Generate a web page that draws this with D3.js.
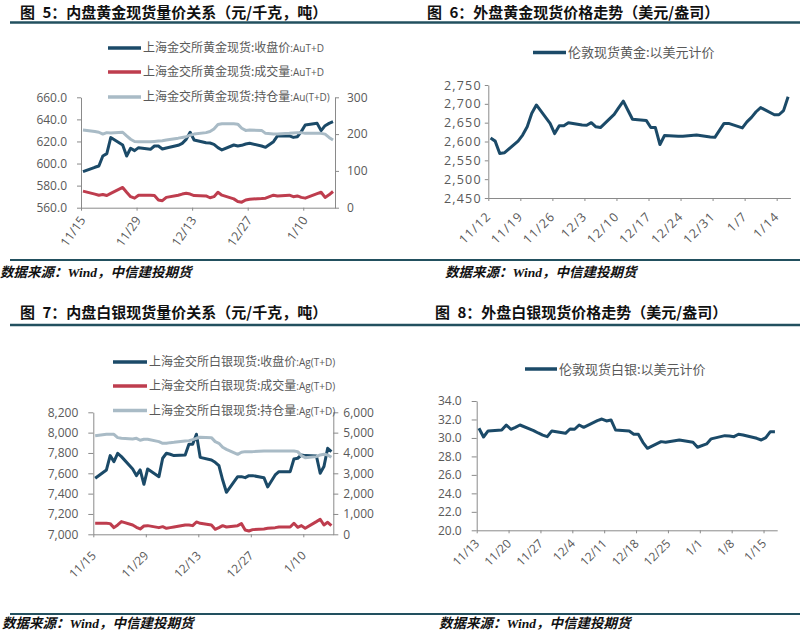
<!DOCTYPE html>
<html>
<head>
<meta charset="utf-8">
<script src="https://cdn.jsdelivr.net/npm/d3@7"></script>
<style>
body { margin: 0; background: #fff; }
text { font-family: "Open Sans", "Noto Sans CJK SC", sans-serif; }
</style>
</head>
<body>
<svg id="chart" width="800" height="637"></svg>
<script>
// ---- data ----
var sgeDates = ['2024-11-15','2024-11-18','2024-11-19','2024-11-20','2024-11-21','2024-11-22',
  '2024-11-25','2024-11-26','2024-11-27','2024-11-28','2024-11-29',
  '2024-12-02','2024-12-03','2024-12-04','2024-12-05','2024-12-06',
  '2024-12-09','2024-12-10','2024-12-11','2024-12-12','2024-12-13',
  '2024-12-16','2024-12-17','2024-12-18','2024-12-19','2024-12-20',
  '2024-12-23','2024-12-24','2024-12-25','2024-12-26','2024-12-27',
  '2024-12-30','2024-12-31','2025-01-02','2025-01-03',
  '2025-01-06','2025-01-07','2025-01-08','2025-01-09','2025-01-10',
  '2025-01-13','2025-01-14','2025-01-15','2025-01-16','2025-01-17'];

var auClose = [592.6,596.6,597.8,606.8,609,623.5, 616.8,606.8,613.8,611.7,614.4,
  612.9,615.9,615.9,613.2,614.1, 616.5,618.3,621.9,628.3,621.3,
  618.9,618.6,617.4,614.4,612.3, 616.8,615.9,616.5,617.7,618.3,
  615.9,614.7,619.8,625, 625,623.7,624.3,628.9,634.9, 636.4,629.8,634.3,636.4,637.9];
var auVolume = [45,37,34,36,33,39, 55,42,30,26,34, 34,33,21,19,28, 34,37,39,37,33,
  32,27,30,42,34, 24,17,15,21,23, 25,26,34,32, 34,30,32,28,26, 38,42,28,35,44];
var auOI = [211,207,205,200,204,203, 205,195,186,180,179, 179,180,181,182,184, 189,191,193,197,200,
  204,207,214,226,228, 228,227,216,210,211, 210,202,200,200, 202,203,204,204,202, 202,202,200,191,184];

var agClose = [7551,7633,7774,7715,7797,7764, 7643,7577,7633,7492,7643,
  7567,7748,7797,7787,7774, 7780,7885,7885,7984,7757,
  7731,7708,7675,7534,7413, 7567,7567,7557,7577,7577,
  7557,7466,7584,7616, 7616,7741,7748,7780,7774, 7770,7600,7666,7846,7813];
var agVolume = [540,540,525,328,459,623, 459,344,262,410,426, 328,377,295,328,360,
  459,459,426,607,541, 459,246,328,426,360, 426,525,213,164,230,
  262,295,328,360, 360,541,344,426,295, 623,738,459,590,426];
var agOI = [4852,4918,4918,4918,4754,4721, 4689,4721,4623,4672,4672, 4557,4475,4475,4508,4525,
  4590,4607,4656,4721,4770, 4754,4557,4475,4279,4180, 3934,4033,4066,4066,4066,
  4098,4098,4098,4098, 4098,4098,4066,3869,3770, 3820,3902,3934,3902,3787];

var lbmaGoldDates = ['2024-11-12','2024-11-13','2024-11-14','2024-11-15','2024-11-18','2024-11-19',
  '2024-11-20','2024-11-21','2024-11-22','2024-11-25','2024-11-26','2024-11-27','2024-11-28','2024-11-29',
  '2024-12-02','2024-12-03','2024-12-04','2024-12-05','2024-12-06','2024-12-09','2024-12-10',
  '2024-12-11','2024-12-12','2024-12-13','2024-12-16','2024-12-17','2024-12-18','2024-12-19',
  '2024-12-20','2024-12-23','2024-12-24','2024-12-27','2024-12-30','2024-12-31',
  '2025-01-02','2025-01-03','2025-01-06','2025-01-07','2025-01-08','2025-01-09','2025-01-10',
  '2025-01-13','2025-01-14','2025-01-15','2025-01-16'];
var lbmaGold = [2609,2601,2568,2570,2601,2617,2639,2675,2697,2648,2621,2642,2642,2650,
  2644,2643,2650,2639,2637,2672,2690,2707,2683,2659,2656,2637,2637,2592,2616,2614,2614,2617,2612,2611,
  2648,2648,2636,2652,2664,2679,2690,2671,2671,2682,2719];

var lbmaSilverDates = ['2024-11-13','2024-11-14','2024-11-15','2024-11-18','2024-11-19','2024-11-20',
  '2024-11-21','2024-11-22','2024-11-25','2024-11-26','2024-11-27','2024-11-28','2024-11-29',
  '2024-12-02','2024-12-03','2024-12-04','2024-12-05','2024-12-06','2024-12-09','2024-12-10',
  '2024-12-11','2024-12-12','2024-12-13','2024-12-16','2024-12-17','2024-12-18','2024-12-19',
  '2024-12-20','2024-12-23','2024-12-24','2024-12-27','2024-12-30','2024-12-31',
  '2025-01-02','2025-01-03','2025-01-06','2025-01-07','2025-01-08','2025-01-09','2025-01-10',
  '2025-01-13','2025-01-14','2025-01-15','2025-01-16','2025-01-17'];
var lbmaSilver = [31.05,30.1,30.76,30.86,31.4,30.94,31.15,31.4,30.8,30.54,30.3,30.14,30.76,
  30.5,30.97,30.94,31.4,31.15,31.87,32.05,31.84,31.95,30.86,30.76,30.4,30.4,29.53,28.88,29.6,29.53,29.78,29.53,28.99,
  29.35,29.9,30.25,30.22,30.14,30.4,30.32,29.96,29.78,30.04,30.68,30.68];

var sgeTicks = ['2024-11-15','2024-11-29','2024-12-13','2024-12-27','2025-01-10'];
var goldTicks = ['2024-11-12','2024-11-19','2024-11-26','2024-12-03','2024-12-10','2024-12-17',
  '2024-12-24','2024-12-31','2025-01-07','2025-01-14'];
var silverTicks = ['2024-11-13','2024-11-20','2024-11-27','2024-12-04','2024-12-11','2024-12-18',
  '2024-12-25','2025-01-01','2025-01-08','2025-01-15'];

var titles = ['图\u20025：内盘黄金现货量价关系（元/千克，吨）', '图\u20026：外盘黄金现货价格走势（美元/盎司）',
  '图\u20027：内盘白银现货量价关系（元/千克，吨）', '图\u20028：外盘白银现货价格走势（美元/盎司）'];
var source = '数据来源：Wind，中信建投期货';

var DARK = '#1b4a68', RED = '#be3d4e', GREY = '#a9bbc6', RULE = '#22505f', AXIS = '#8a8a8a', LABEL = '#595959';

var parse = d3.timeParse('%Y-%m-%d');
var fmtDay = d3.timeFormat('%-m/%-d');
var svg = d3.select('#chart');

// points sit in the middle of their day, like the date axis in the source charts
function mid(s) { return d3.timeHour.offset(parse(s), 12); }

function drawPanel(o) {
  var g = svg.append('g');
  var x = d3.scaleTime().domain([parse(o.start), parse(o.end)]).range([o.x0, o.x1]);
  var yL = d3.scaleLinear().domain(o.left.domain).range([o.yBot, o.yTop]);
  var yR = o.right ? d3.scaleLinear().domain(o.right.domain).range([o.yBot, o.yTop]) : null;

  // x axis
  var xa = g.append('g').attr('transform', 'translate(0,' + o.yBot + ')')
    .call(d3.axisBottom(x).tickValues(o.ticks.map(parse)).tickFormat(fmtDay).tickSize(3).tickSizeOuter(0));
  xa.selectAll('text')
    .attr('text-anchor', 'end').attr('dy', '0.35em').attr('y', 0)
    .attr('transform', 'translate(' + (o.xLabelDx || 0) + ',' + o.xLabelOff + ') rotate(' + (o.xLabelRot || -45) + ')')
    .style('font-size', (o.xFont || o.font) + 'px').style('letter-spacing', (o.spacing || 0) + 'px').attr('fill', LABEL);

  // left axis
  var la = g.append('g').attr('transform', 'translate(' + o.x0 + ',0)')
    .call(d3.axisLeft(yL).tickValues(o.left.ticks).tickFormat(d3.format(o.left.fmt)).tickSize(o.tick).tickSizeOuter(0).tickPadding(o.pad));
  la.selectAll('text').style('font-size', o.font + 'px').style('letter-spacing', (o.spacing || 0) + 'px').attr('fill', LABEL);

  if (yR) {
    var ra = g.append('g').attr('transform', 'translate(' + o.x1 + ',0)')
      .call(d3.axisRight(yR).tickValues(o.right.ticks).tickFormat(d3.format(o.right.fmt)).tickSize(o.tick).tickSizeOuter(0).tickPadding(o.padR));
    ra.selectAll('text').style('font-size', o.font + 'px').attr('fill', LABEL);
  }
  g.selectAll('.domain, .tick line').attr('stroke', AXIS);
  g.selectAll('.tick text').attr('font-family', '"Open Sans", sans-serif');

  // lines
  o.series.forEach(function(s) {
    var ys = s.axis === 'right' ? yR : yL;
    var line = d3.line().x(function(d, i) { return x(mid(s.dates[i])); }).y(function(d) { return ys(d); });
    g.append('path').datum(s.values).attr('d', line).attr('fill', 'none')
      .attr('stroke', s.color).attr('stroke-width', 3).attr('stroke-linejoin', 'round');
  });

  // legend
  o.legend.forEach(function(l) {
    g.append('line').attr('x1', o.legX).attr('x2', o.legX + o.legW).attr('y1', l.y).attr('y2', l.y)
      .attr('stroke', l.color).attr('stroke-width', 3.5);
    var t = g.append('text').attr('x', o.legX + o.legW + 2).attr('y', l.y).attr('dy', '0.36em')
      .attr('fill', LABEL).style('font-size', o.legFont + 'px').style('font-family', '"Noto Sans CJK SC", sans-serif');
    t.append('tspan').text(l.label);
    if (l.sub) t.append('tspan').text(l.sub).style('font-size', (o.legFont - 2) + 'px').style('font-family', '"Open Sans", sans-serif');
  });
}

// ---- titles, rules, sources ----
var titlePos = [[20, 18], [427, 18], [20, 318], [435, 318]];
titles.forEach(function(t, i) {
  svg.append('text').attr('x', titlePos[i][0]).attr('y', titlePos[i][1]).text(t)
    .style('font-family', '"Noto Sans CJK SC", sans-serif').style('font-weight', 700).style('font-size', '15px').attr('fill', '#111');
});
[[10, 22.5, 2.6], [10, 260, 2.2], [10, 325, 2.6], [10, 614, 2.2]].forEach(function(r) {
  svg.append('line').attr('x1', r[0]).attr('x2', 800).attr('y1', r[1]).attr('y2', r[1])
    .attr('stroke', RULE).attr('stroke-width', r[2]);
});
[[0, 277], [445, 277], [2, 628], [439, 628]].forEach(function(p) {
  svg.append('text').attr('x', p[0]).attr('y', p[1]).text(source)
    .style('font-family', '"Liberation Serif", "Noto Sans CJK SC", serif').style('font-style', 'italic')
    .style('font-weight', 700).style('font-size', '13.5px').attr('fill', '#111');
});

// ---- panels ----
drawPanel({
  x0: 81, x1: 335, yTop: 97.3, yBot: 207.7, start: '2024-11-15', end: '2025-01-18', ticks: sgeTicks,
  left: { domain: [560, 660], ticks: d3.range(560, 661, 20), fmt: '.1f' },
  right: { domain: [0, 300], ticks: [0, 100, 200, 300], fmt: 'd' },
  font: 12, xFont: 12.5, tick: 4, pad: 10, padR: 8, xLabelOff: 10, xLabelDx: 1, xLabelRot: -55,
  series: [
    { dates: sgeDates, values: auClose, color: DARK, axis: 'left' },
    { dates: sgeDates, values: auVolume, color: RED, axis: 'right' },
    { dates: sgeDates, values: auOI, color: GREY, axis: 'right' }
  ],
  legX: 108, legW: 33, legFont: 12,
  legend: [
    { label: '上海金交所黄金现货:收盘价', sub: ':AuT+D', color: DARK, y: 48 },
    { label: '上海金交所黄金现货:成交量', sub: ':AuT+D', color: RED, y: 72 },
    { label: '上海金交所黄金现货:持仓量', sub: ':Au(T+D)', color: GREY, y: 97 }
  ]
});

drawPanel({
  x0: 488.3, x1: 790.4, yTop: 85, yBot: 198, start: '2024-11-12', end: '2025-01-17', ticks: goldTicks,
  left: { domain: [2450, 2750], ticks: d3.range(2450, 2751, 50), fmt: ',' },
  font: 12.5, spacing: 1.2, tick: 3.5, pad: 3, xLabelOff: 16,
  series: [{ dates: lbmaGoldDates, values: lbmaGold, color: DARK, axis: 'left' }],
  legX: 533, legW: 33, legFont: 13,
  legend: [{ label: '伦敦现货黄金:以美元计价', color: DARK, y: 52.5 }]
});

drawPanel({
  x0: 93.3, x1: 333.3, yTop: 412.3, yBot: 534.3, start: '2024-11-15', end: '2025-01-18', ticks: sgeTicks,
  left: { domain: [7000, 8200], ticks: d3.range(7000, 8201, 200), fmt: ',' },
  right: { domain: [0, 6000], ticks: d3.range(0, 6001, 1000), fmt: ',' },
  font: 12, tick: 5, pad: 10, padR: 5, xLabelOff: 19,
  series: [
    { dates: sgeDates, values: agClose, color: DARK, axis: 'left' },
    { dates: sgeDates, values: agVolume, color: RED, axis: 'right' },
    { dates: sgeDates, values: agOI, color: GREY, axis: 'right' }
  ],
  legX: 113, legW: 34, legFont: 12,
  legend: [
    { label: '上海金交所白银现货:收盘价', sub: ':Ag(T+D)', color: DARK, y: 362 },
    { label: '上海金交所白银现货:成交量', sub: ':Ag(T+D)', color: RED, y: 386 },
    { label: '上海金交所白银现货:持仓量', sub: ':Ag(T+D)', color: GREY, y: 410.5 }
  ]
});

drawPanel({
  x0: 476.7, x1: 777.2, yTop: 401, yBot: 530.3, start: '2024-11-13', end: '2025-01-18', ticks: silverTicks,
  left: { domain: [20, 34], ticks: d3.range(20, 34.1, 2), fmt: '.1f' },
  font: 12, tick: 5, pad: 10, xLabelOff: 11,
  series: [{ dates: lbmaSilverDates, values: lbmaSilver, color: DARK, axis: 'left' }],
  legX: 525, legW: 32, legFont: 13,
  legend: [{ label: '伦敦现货白银:以美元计价', color: DARK, y: 369 }]
});
</script>
</body>
</html>
